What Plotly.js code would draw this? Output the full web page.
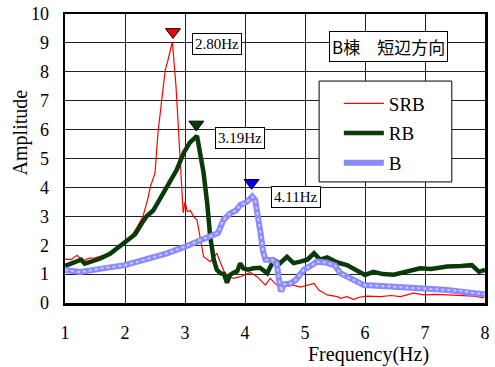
<!DOCTYPE html>
<html>
<head>
<meta charset="utf-8">
<script src="https://cdn.plot.ly/plotly-3.0.1.min.js"></script>
<style>html,body{margin:0;padding:0;background:#fff;}#chart{width:495px;height:367px;}</style>
</head>
<body>
<div id="chart"></div>
<script>
// ---- data ----
const srbFreq = [1.0,1.1,1.2,1.3,1.4,1.5,1.6,1.7,1.8,1.9,2.0,2.1,2.2,2.3,2.38,2.42,2.5,2.55,2.61,2.67,2.71,2.79,2.85,2.91,2.95,2.97,3.0,3.04,3.09,3.14,3.2,3.25,3.31,3.42,3.53,3.59,3.65,3.7,3.81,3.92,4.06,4.09,4.2,4.34,4.42,4.53,4.64,4.81,4.92,5.04,5.15,5.23,5.37,5.54,5.59,5.7,5.81,5.9,6.04,6.26,6.43,6.59,6.81,6.98,7.15,7.37,7.59,7.82,7.98];
const srbAmp  = [1.52,1.50,1.65,1.45,1.55,1.56,1.62,1.68,1.82,1.95,2.05,2.30,2.62,3.0,3.6,4.0,4.5,5.9,7.0,8.06,8.35,9.04,7.5,5.2,3.68,3.12,3.5,3.16,3.2,3.0,2.87,2.3,1.6,1.43,1.72,1.40,1.1,0.95,0.85,0.91,1.03,1.06,0.91,0.62,0.85,0.62,0.56,0.62,0.55,0.62,0.68,0.45,0.28,0.22,0.16,0.22,0.12,0.2,0.24,0.22,0.26,0.22,0.34,0.28,0.3,0.28,0.26,0.24,0.18];

const rbFreq = [1.0,1.1,1.2,1.27,1.33,1.45,1.58,1.75,1.88,2.0,2.17,2.28,2.36,2.47,2.59,2.72,2.86,2.98,3.08,3.17,3.2,3.25,3.31,3.37,3.42,3.48,3.53,3.59,3.65,3.7,3.75,3.81,3.87,3.92,3.97,4.05,4.14,4.25,4.37,4.48,4.58,4.7,4.81,4.92,5.04,5.15,5.25,5.37,5.54,5.7,5.87,6.0,6.14,6.3,6.48,6.7,6.92,7.1,7.37,7.6,7.78,7.9,8.0];
const rbAmp  = [1.28,1.35,1.42,1.5,1.36,1.45,1.53,1.7,1.92,2.08,2.38,2.76,3.0,3.2,3.6,4.1,4.6,5.2,5.55,5.75,5.78,5.2,4.5,3.45,2.3,1.5,1.15,1.03,1.0,0.7,0.97,1.05,1.1,1.37,1.2,1.15,1.2,1.22,1.03,1.49,1.37,1.6,1.38,1.43,1.5,1.72,1.5,1.58,1.4,1.31,1.14,0.97,1.08,1.0,0.98,1.08,1.2,1.18,1.26,1.28,1.31,1.08,1.15];

const bFreq = [1.0,1.1,1.25,1.4,1.58,1.8,2.0,2.2,2.42,2.7,3.0,3.25,3.48,3.55,3.64,3.75,3.85,3.92,4.03,4.12,4.17,4.22,4.26,4.3,4.34,4.45,4.53,4.56,4.6,4.65,4.76,4.85,4.98,5.09,5.2,5.35,5.5,5.59,5.7,5.81,5.98,6.2,6.43,6.7,6.98,7.37,7.6,7.82,8.0];
const bAmp  = [1.14,1.12,1.07,1.12,1.2,1.25,1.31,1.42,1.55,1.72,1.95,2.18,2.35,2.42,2.87,3.1,3.2,3.39,3.5,3.68,3.56,3.0,2.41,1.8,1.5,1.49,1.37,0.9,0.4,0.65,0.68,0.8,1.15,1.28,1.43,1.4,1.3,1.03,0.9,0.8,0.62,0.6,0.56,0.53,0.5,0.45,0.42,0.34,0.3];

const seriesNames = ['SRB','RB','B'];
const peakFreq  = [2.80, 3.19, 4.11];
const peakMarkY = [9.38, 6.18, 4.16];
const peakLabelY = [8.95, 5.7, 3.66];
const peakLabels = ['2.80Hz','3.19Hz','4.11Hz'];
const xTicks = [1,2,3,4,5,6,7,8];
const yTicks = [0,1,2,3,4,5,6,7,8,9,10];
const chartTitle = 'B棟　短辺方向';

// ---- styles ----
const colors = ['#ff0000','#0a3a0a','#8a8aff'];
const serif = '"Liberation Serif", "Times New Roman", serif';

const traces = [
  {x: srbFreq, y: srbAmp, name: seriesNames[0], mode:'lines', line:{color:colors[0], width:1.2}, legendgroup:'a'},
  {x: rbFreq, y: rbAmp, name: seriesNames[1], mode:'lines', line:{color:colors[1], width:4.5}, legendgroup:'b'},
  {x: bFreq, y: bAmp, name: seriesNames[2], mode:'lines', line:{color:colors[2], width:6}, legendgroup:'c'},
  {x: bFreq, y: bAmp, mode:'lines', line:{color:'rgba(255,255,255,0.55)', width:2, dash:'dot'}, showlegend:false, hoverinfo:'skip'},
  {x: peakFreq, y: peakMarkY, mode:'markers', showlegend:false,
   marker:{symbol:'triangle-down', size:13, color:['#ff0000','#0a3a0a','#0000ff'], line:{color:'#000', width:1}}}
];

const annotations = peakLabels.map((t,i)=>({
  x: peakFreq[i], y: peakLabelY[i], xref:'x', yref:'y', text: t, showarrow:false,
  xanchor:'left', yanchor:'middle', xshift: 19, font:{family:serif, size:15, color:'#000'},
  bgcolor:'#fff', bordercolor:'#000', borderwidth:1, borderpad:2
}));
annotations.push({x:0.77, y:0.887, xref:'paper', yref:'paper', xanchor:'center', yanchor:'middle',
  text: chartTitle, showarrow:false,
  font:{family:'"Noto Sans CJK JP", sans-serif', size:17, color:'#000'},
  bgcolor:'#fff', bordercolor:'#000', borderwidth:1, borderpad:2});
annotations.push({x:-0.105, y:0.59, xref:'paper', yref:'paper', xanchor:'center', yanchor:'middle',
  text:'Amplitude', showarrow:false, textangle:-90, font:{family:serif, size:20, color:'#000'}});
annotations.push({x:0.722, y:-0.1765, xref:'paper', yref:'paper', xanchor:'center', yanchor:'middle',
  text:'Frequency(Hz)', showarrow:false, font:{family:serif, size:20, color:'#000'}});

const layout = {
  width:495, height:367,
  margin:{l:65, r:10, t:14, b:64},
  paper_bgcolor:'#fff', plot_bgcolor:'#fff',
  showlegend:true,
  legend:{x:0.652, y:0.756, xanchor:'left', yanchor:'top', bgcolor:'rgba(0,0,0,0)', borderwidth:0,
          font:{family:serif, size:19, color:'#000'}, tracegroupgap:2, itemwidth:40},
  xaxis:{range:[1,8], tickvals:xTicks, ticks:'', showgrid:true, gridcolor:'#222', gridwidth:1,
         showline:true, mirror:true, linecolor:'#000', linewidth:2.5, zeroline:false,
         tickfont:{family:serif, size:18, color:'#000'}, ticklabelstandoff:12, fixedrange:true},
  yaxis:{range:[0,10], tickvals:yTicks, ticks:'', showgrid:true, gridcolor:'#222', gridwidth:1,
         showline:true, mirror:true, linecolor:'#000', linewidth:2.5, zeroline:false,
         tickfont:{family:serif, size:18, color:'#000'}, ticklabelstandoff:10, fixedrange:true},
  shapes:[{type:'rect', xref:'paper', yref:'paper', x0:0.605, x1:0.921, y0:0.419, y1:0.768,
           fillcolor:'#fff', line:{color:'#000', width:1}, layer:'above'}],
  annotations: annotations
};

Plotly.newPlot('chart', traces, layout, {staticPlot:true, displayModeBar:false});
</script>
</body>
</html>
